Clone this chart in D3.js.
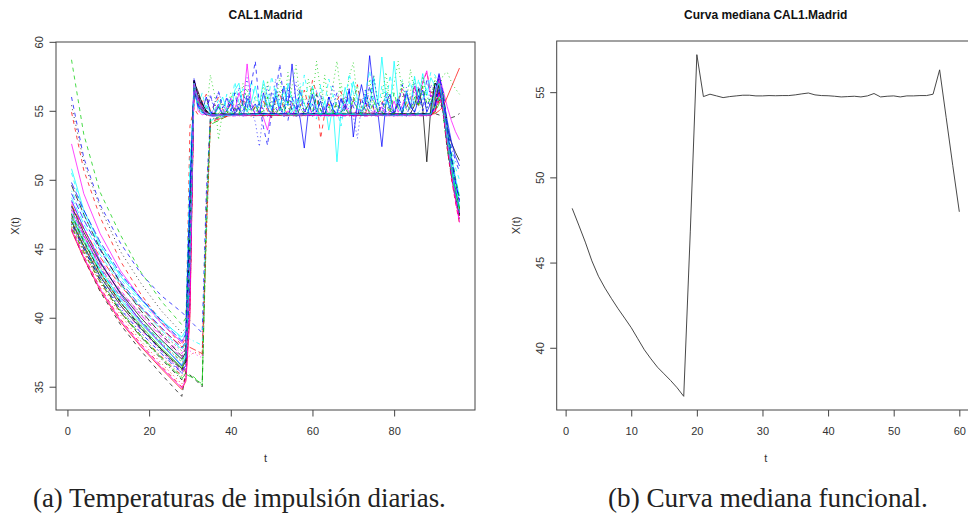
<!DOCTYPE html>
<html><head><meta charset="utf-8">
<script src="https://cdn.jsdelivr.net/npm/d3@7"></script>
<style>body{margin:0;background:#fff}svg{display:block}</style>
</head><body><svg id="c" width="968" height="516"></svg>
<script>
// ---------------- DATA ----------------
// Panel (a): daily supply temperatures, 42 curves over t = 1..96
const tDecay = [1, 4, 8, 13, 18, 23, 28];
const decayVals = [
 [47.0,45.2,43.0,40.9,39.2,37.7,36.3],
 [54.9,50.7,47.3,44.1,41.7,39.7,38.0],
 [47.5,45.8,43.8,41.9,40.3,38.9,37.6],
 [48.0,46.0,43.6,41.2,39.2,37.6,36.0],
 [47.2,45.5,43.4,41.4,39.8,38.3,37.0],
 [52.6,49.0,46.1,43.4,41.4,39.6,38.2],
 [46.4,44.3,41.9,39.5,37.6,35.9,34.3],
 [46.8,44.8,42.5,40.2,38.3,36.7,35.2],
 [47.8,45.9,43.7,41.5,39.8,38.2,36.8],
 [49.0,47.1,44.9,42.6,40.8,39.3,37.8],
 [50.8,47.8,45.3,43.0,41.3,39.8,38.6],
 [47.3,45.4,43.2,40.9,39.1,37.6,36.1],
 [55.4,51.3,48.0,44.8,42.5,40.5,38.9],
 [46.6,44.8,42.6,40.4,38.7,37.2,35.8],
 [47.0,45.1,42.8,40.5,38.7,37.1,35.6],
 [48.5,46.5,44.1,41.7,39.7,38.1,36.5],
 [50.5,47.5,45.1,42.8,41.1,39.6,38.4],
 [47.6,45.9,43.9,41.9,40.3,38.9,37.6],
 [46.9,45.0,42.7,40.4,38.6,37.0,35.5],
 [48.2,46.4,44.4,42.3,40.7,39.2,37.9],
 [47.4,45.5,43.3,41.1,39.4,37.8,36.4],
 [56.0,51.6,48.2,45.4,43.2,41.6,40.4],
 [46.7,45.0,43.1,41.1,39.5,38.2,36.9],
 [47.7,45.9,43.9,41.8,40.2,38.7,37.4],
 [49.6,47.5,45.0,42.5,40.5,38.8,37.2],
 [46.3,44.3,42.0,39.7,37.9,36.3,34.8],
 [58.7,53.3,49.1,46.0,43.3,41.2,39.5],
 [47.1,45.2,43.0,40.7,38.9,37.4,35.9],
 [49.2,47.4,45.2,43.1,41.4,39.9,38.5],
 [47.9,46.0,43.7,41.5,39.7,38.1,36.6],
 [48.1,46.2,44.0,41.8,40.0,38.4,37.0],
 [46.5,44.5,42.2,39.9,38.1,36.5,35.0],
 [47.2,45.3,43.1,40.9,39.2,37.6,36.2],
 [46.8,45.0,42.8,40.6,38.9,37.4,36.0],
 [48.7,46.8,44.6,42.4,40.7,39.1,37.7],
 [46.4,44.4,42.1,39.8,38.0,36.4,34.9],
 [47.5,45.6,43.3,41.1,39.3,37.7,36.2],
 [46.9,45.2,43.2,41.1,39.5,38.1,36.8],
 [46.6,44.7,42.6,40.4,38.6,37.1,35.7],
 [49.8,47.8,45.5,43.2,41.4,39.8,38.3],
 [47.6,45.7,43.5,41.3,39.6,38.0,36.6],
 [48.4,46.5,44.2,42.0,40.2,38.6,37.1]
];
// jump segment [t, value], t = 29..35
const riseVals = [
 [[29,36.9],[30,44.0],[31,57.2],[32,56.0],[33,55.3],[34,54.9],[35,54.75]],
 [[29,38.6],[30,53.9],[31,55.2],[32,54.7],[33,55.6],[34,56.2],[35,55.0]],
 [[29,38.2],[30,47.0],[31,56.8],[32,55.4],[33,55.0],[34,54.8],[35,57.6]],
 [[29,36.7],[30,45.5],[31,57.4],[32,55.9],[33,55.6],[34,54.9],[35,56.2]],
 [[29,37.5],[30,42.0],[31,56.9],[32,55.6],[33,55.1],[34,54.8],[35,54.7]],
 [[29,38.8],[30,49.0],[31,57.1],[32,55.0],[33,54.7],[34,54.8],[35,54.6]],
 [[29,36.1],[31,35.6],[33,35.0],[34,47.5],[35,54.3]],
 [[29,35.7],[30,40.5],[31,56.6],[32,55.7],[33,55.2],[34,54.8],[35,54.7]],
 [[29,37.4],[30,46.0],[31,57.0],[32,55.8],[33,55.0],[34,54.7],[35,54.7]],
 [[29,38.3],[30,43.5],[31,56.7],[32,55.5],[33,54.9],[34,54.8],[35,54.6]],
 [[29,39.1],[30,50.5],[31,56.5],[32,55.2],[33,54.8],[34,55.4],[35,54.9]],
 [[29,36.6],[30,41.5],[31,57.3],[32,56.1],[33,55.3],[34,54.9],[35,54.7]],
 [[29,39.3],[30,47.5],[31,56.9],[32,56.3],[33,55.6],[34,55.0],[35,54.8]],
 [[29,36.4],[30,43.0],[31,56.8],[32,55.6],[33,55.1],[34,54.8],[35,54.7]],
 [[29,35.9],[31,35.6],[33,35.2],[34,46.0],[35,54.0]],
 [[29,37.1],[30,48.5],[31,57.2],[32,55.4],[33,55.0],[34,56.0],[35,54.9]],
 [[29,38.9],[30,51.5],[31,56.4],[32,55.3],[33,56.3],[34,55.1],[35,54.8]],
 [[29,37.8],[31,37.4],[33,37.1],[34,48.5],[35,54.4]],
 [[29,36.0],[30,41.0],[31,57.0],[32,55.9],[33,55.2],[34,54.8],[35,54.7]],
 [[29,38.0],[31,37.7],[33,37.4],[34,46.5],[35,54.2]],
 [[29,37.0],[30,44.5],[31,57.1],[32,55.7],[33,55.0],[34,54.8],[35,54.7]],
 [[29,40.1],[31,39.5],[33,38.9],[34,49.0],[35,54.5]],
 [[29,37.4],[30,45.0],[31,56.6],[32,55.4],[33,54.9],[34,55.3],[35,54.8]],
 [[29,37.9],[30,42.5],[31,56.9],[32,55.6],[33,55.1],[34,54.8],[35,54.7]],
 [[29,37.8],[30,46.5],[31,57.2],[32,56.0],[33,55.2],[34,54.9],[35,54.7]],
 [[29,35.4],[30,40.0],[31,57.0],[32,55.8],[33,55.2],[34,54.8],[35,54.7]],
 [[29,40.0],[30,48.0],[31,56.7],[32,55.5],[33,55.0],[34,54.7],[35,54.8]],
 [[29,36.5],[30,47.5],[31,57.3],[32,56.0],[33,55.6],[34,55.0],[35,56.0]],
 [[29,38.6],[31,38.3],[33,38.0],[34,47.0],[35,54.3]],
 [[29,37.1],[30,43.5],[31,56.8],[32,55.6],[33,55.1],[34,54.8],[35,54.7]],
 [[29,37.5],[30,45.5],[31,57.1],[32,56.4],[33,55.5],[34,55.0],[35,54.7]],
 [[29,35.6],[30,41.0],[31,56.5],[32,55.5],[33,55.0],[34,54.7],[35,54.7]],
 [[29,36.8],[30,44.0],[31,57.0],[32,55.7],[33,55.2],[34,55.8],[35,55.0]],
 [[29,36.6],[30,42.5],[31,56.9],[32,55.8],[33,55.1],[34,54.8],[35,54.7]],
 [[29,38.2],[30,46.0],[31,56.6],[32,55.4],[33,54.9],[34,54.8],[35,54.7]],
 [[29,35.5],[30,40.5],[31,57.0],[32,55.9],[33,55.2],[34,54.8],[35,54.7]],
 [[29,36.8],[30,44.5],[31,56.8],[32,56.2],[33,55.5],[34,55.0],[35,54.8]],
 [[29,37.0],[31,37.5],[33,37.3],[34,45.5],[35,54.1]],
 [[29,36.0],[31,35.7],[33,35.1],[34,48.0],[35,54.4]],
 [[29,38.8],[30,49.5],[31,56.5],[32,55.3],[33,54.9],[34,54.7],[35,54.7]],
 [[29,37.2],[30,44.0],[31,57.0],[32,55.7],[33,55.1],[34,54.8],[35,54.7]],
 [[29,37.6],[30,45.0],[31,56.9],[32,55.6],[33,55.0],[34,54.8],[35,54.7]]
];
// plateau: quiet curves at tSparse, noisy curves at every t = 36..89
const tSparse = [40, 48, 56, 64, 72, 80, 89];
const tDense = d3.range(36, 90);
const flatVals = [
 [54.8,54.7,54.75,54.7,54.8,54.72,54.7,54.78,54.7,54.75, 54.7,54.8,54.72,54.7,54.76,54.7,54.8,54.74,54.7,54.72, 54.78,54.7,54.74,54.8,54.7,54.72,54.76,54.7,54.8,54.74, 54.7,54.76,54.72,54.8,54.7,54.74,54.7,54.78,54.72,54.7, 54.76,54.7,54.8,54.74,54.7,54.72,54.78,54.7,54.8,55.4, 56.6,55.2,51.3,55.3],
 [55.4,56.0,55.1,54.7,55.5,54.9,55.3,56.2,55.0,54.6, 55.3,54.8,55.7,55.0,54.5,55.8,56.3,55.1,54.8,55.6, 54.9,55.3,56.5,55.4,57.2,56.3,53.0,54.8,55.5,54.9, 55.7,56.4,55.2,54.7,55.6,56.9,55.3,54.8,55.9,55.1, 54.6,55.5,56.2,55.0,54.8,55.7,56.6,55.2,55.9,56.8, 55.4,57.0,57.8,56.3],
 [56.2,52.9,55.0,54.7,55.8,56.4,55.2,57.0,55.5,54.8, 56.1,55.3,54.7,57.2,55.6,54.9,56.5,55.2,57.8,55.9, 55.0,56.7,55.4,57.3,55.8,58.6,56.4,55.1,54.6,56.8, 58.6,56.0,55.2,57.5,58.5,55.8,54.9,56.3,55.2,57.6, 55.5,54.8,56.9,55.6,57.0,58.6,56.1,55.0,56.4,57.3, 55.4,56.8,55.1,56.2],
 [54.9,55.5,54.8,56.0,55.1,54.7,55.6,54.9,56.2,55.3, 54.8,55.7,55.0,54.6,56.4,55.2,54.7,55.3,56.7,55.0, 54.6,55.8,55.1,54.8,55.5,54.7,56.1,55.0,54.6,55.4, 56.3,54.9,55.2,54.7,55.8,55.0,54.6,56.0,55.2,54.8, 55.6,54.7,56.3,55.0,54.8,55.4,56.9,55.1,54.7,55.9, 56.8,55.2,57.3,56.0],
 [54.72,54.68,54.74,54.70,54.76,54.70,54.75],
 [54.9,55.4,54.8,55.2,55.9,55.0,56.3,55.4,58.4,55.6, 54.7,55.0,54.5,53.6,55.1,54.8,55.3,54.6,55.0,54.7, 55.2,54.6,54.9,55.4,54.7,55.0,54.6,55.3,54.8,55.1, 54.6,55.0,55.5,54.8,54.6,55.2,54.9,55.6,54.7,55.0, 54.8,55.3,54.6,55.0,55.7,54.9,55.4,56.2,55.3,56.8, 55.6,57.1,57.9,56.0],
 [54.75,54.70,54.80,54.72,54.70,54.78,54.70],
 [54.68,54.74,54.70,54.66,54.72,54.70,54.68],
 [54.76,54.72,54.78,54.74,54.80,54.72,54.80],
 [54.70,54.78,54.72,54.80,54.74,54.76,54.72],
 [54.7,55.2,56.0,55.1,54.8,56.5,57.0,55.3,54.9,55.6, 56.8,55.4,57.2,56.0,55.0,56.6,55.3,54.7,57.0,55.8, 54.8,56.3,55.5,54.9,56.8,55.2,54.6,55.7,53.6,55.4, 51.3,55.0,56.7,55.5,57.1,55.9,54.7,56.2,55.4,57.4, 55.6,58.9,55.9,55.1,58.6,55.7,54.8,56.2,55.3,57.5, 55.8,57.7,56.1,57.4],
 [54.66,54.70,54.64,54.70,54.66,54.72,54.68],
 [54.80,54.76,54.84,54.78,54.82,54.80,54.85],
 [54.72,54.66,54.70,54.74,54.68,54.72,54.70],
 [54.74,54.80,54.72,54.76,54.70,54.78,54.74],
 [54.8,55.3,54.7,55.0,55.6,54.8,55.2,54.6,55.9,55.1, 55.5,54.8,56.3,55.2,54.7,56.1,55.0,56.8,55.4,58.4, 55.6,54.4,52.3,55.0,56.2,54.9,55.7,54.6,56.0,55.1, 54.8,55.9,55.2,56.6,53.1,55.4,56.9,55.5,59.0,56.3, 54.9,52.4,55.6,56.2,54.8,55.7,54.7,56.4,55.3,54.9, 55.8,56.5,54.9,55.6],
 [55.0,55.8,54.6,56.2,55.4,57.1,55.6,56.6,55.0,57.2, 55.7,54.5,56.1,55.3,57.5,56.2,55.0,56.7,55.4,54.8, 56.0,55.2,57.6,56.1,55.0,54.4,56.9,55.5,57.3,56.2, 55.0,53.9,55.6,57.7,56.3,55.1,54.7,56.4,57.9,55.8, 54.9,56.8,55.4,57.6,56.0,55.2,54.6,56.3,57.1,55.5, 57.3,55.9,56.6,57.8],
 [54.64,54.68,54.62,54.66,54.70,54.64,54.66],
 [54.78,54.72,54.76,54.82,54.74,54.70,54.76],
 [54.70,54.74,54.80,54.72,54.78,54.74,54.70],
 [54.74,54.70,54.68,54.74,54.72,54.76,54.78],
 [55.6,56.4,55.2,55.9,55.0,56.3,54.9,55.8,55.1,56.9, 58.6,55.4,53.8,52.5,55.0,56.2,58.4,55.6,54.3,56.0, 55.0,56.6,54.8,55.7,54.6,56.2,55.1,54.7,56.0,55.2, 54.6,55.8,54.9,56.4,55.3,54.6,55.9,55.0,56.8,55.2, 54.7,55.6,54.9,55.4,54.8,56.0,55.2,54.6,55.5,54.9, 56.1,55.0,55.8,55.3],
 [54.8,55.4,54.7,55.0,56.0,54.9,55.3,54.7,55.8,55.1, 54.8,55.5,56.7,55.2,54.6,55.9,55.0,56.4,55.3,54.8, 55.6,57.0,55.4,54.9,55.7,54.6,55.8,55.1,54.7,56.2, 55.4,54.8,55.9,55.0,57.2,55.3,54.6,55.5,54.9,56.0, 55.2,54.7,56.5,55.3,54.8,55.6,57.3,55.4,56.0,55.2, 54.8,55.9,56.4,55.5],
 [54.62,54.66,54.70,54.64,54.60,54.66,54.62],
 [54.82,54.78,54.74,54.80,54.84,54.78,54.80],
 [54.70,54.66,54.74,54.70,54.72,54.68,54.74],
 [54.8,55.3,54.7,55.0,54.6,55.2,54.8,55.6,54.9,54.7, 55.4,54.8,55.0,56.0,55.1,54.7,55.3,54.9,55.7,55.0, 54.6,55.2,54.8,55.5,54.9,56.2,55.0,54.7,55.3,54.8, 55.6,54.9,55.2,54.7,56.0,55.1,54.8,55.4,54.9,55.7, 55.0,54.7,55.5,54.8,56.3,55.2,54.9,55.6,55.0,56.0, 55.3,56.8,55.5,55.9],
 [55.3,56.4,55.4,55.0,55.9,54.8,56.7,55.3,57.4,55.0, 54.2,52.4,55.1,56.8,55.2,57.3,55.6,54.5,56.3,55.0, 57.1,55.3,54.6,55.8,54.7,56.5,55.0,54.6,55.7,56.9, 55.2,54.5,56.1,55.0,54.6,53.0,55.4,56.6,55.1,57.5, 55.6,54.8,56.0,55.2,54.5,55.9,54.8,56.7,55.1,57.0, 55.5,56.3,55.0,56.9],
 [54.76,54.82,54.78,54.74,54.80,54.76,54.78],
 [54.68,54.72,54.66,54.70,54.74,54.70,54.66],
 [54.74,54.78,54.72,54.76,54.70,54.74,54.80],
 [54.70,54.64,54.68,54.72,54.66,54.70,54.72],
 [55.2,54.7,55.6,54.9,56.3,55.1,54.8,55.7,56.6,55.0, 54.6,55.4,56.9,55.3,54.8,55.6,57.4,55.2,54.7,56.8, 58.3,55.6,54.9,55.5,56.7,55.2,54.7,57.6,55.4,54.9, 55.8,57.0,55.3,54.6,55.9,56.8,55.1,54.8,57.3,55.5, 54.9,56.1,57.8,55.4,54.7,55.8,57.2,55.6,58.0,56.2, 55.3,57.5,56.0,55.4],
 [54.72,54.76,54.70,54.68,54.74,54.80,54.74],
 [54.80,54.74,54.78,54.82,54.76,54.74,54.78],
 [54.66,54.70,54.74,54.68,54.70,54.64,54.70],
 [54.74,54.70,54.76,54.72,54.78,54.70,54.72],
 [54.70,54.76,54.72,54.70,54.74,54.78,54.74],
 [54.76,54.70,54.74,54.78,54.72,54.76,54.70],
 [54.72,54.78,54.80,54.74,54.70,54.72,54.76],
 [54.68,54.74,54.70,54.76,54.72,54.68,54.72],
 [54.78,54.72,54.76,54.70,54.78,54.74,54.70]
];
// final drop, t = 90..96
const tEnd = [90, 91, 92, 93, 94, 95, 96];
const endVals = [
 [57.0,56.6,55.2,53.8,52.7,52.0,51.4],
 [56.4,57.3,55.1,52.4,50.5,48.9,47.6],
 [57.2,56.0,55.4,53.0,50.8,49.2,47.8],
 [56.9,56.2,55.6,54.0,52.4,51.4,50.6],
 [55.2,56.5,54.8,52.6,50.6,49.0,47.5],
 [56.4,57.6,56.5,55.3,54.3,53.5,52.9],
 [55.0,55.8,55.0,52.7,50.8,49.3,47.9],
 [54.9,56.0,55.3,52.8,50.4,48.7,47.2],
 [55.6,57.0,54.7,52.2,50.3,48.8,47.4],
 [55.3,56.3,55.6,53.6,51.6,49.9,48.5],
 [56.8,57.2,55.8,53.5,51.8,50.2,48.8],
 [54.8,55.9,56.2,53.4,51.0,49.1,47.7],
 [55.4,56.8,54.9,52.5,50.6,49.1,47.8],
 [55.0,56.1,55.2,52.9,50.6,48.8,47.3],
 [54.9,55.5,56.4,53.7,51.2,49.3,47.9],
 [56.3,57.7,56.0,54.3,52.8,51.7,51.0],
 [57.6,56.9,55.5,53.7,52.1,50.9,50.0],
 [55.1,56.7,54.9,52.7,50.9,49.6,48.4],
 [55.3,56.4,55.0,52.4,50.3,48.6,47.1],
 [55.0,55.7,55.9,53.1,50.8,49.0,47.6],
 [56.0,57.1,55.2,52.8,50.9,49.4,48.0],
 [55.6,57.4,56.3,54.0,51.9,50.0,48.6],
 [56.6,57.0,55.7,53.3,51.3,49.8,48.9],
 [55.2,56.2,55.4,52.9,50.7,49.0,47.6],
 [55.5,56.9,55.1,52.6,50.5,48.9,47.5],
 [54.8,55.0,55.3,56.0,56.7,57.4,58.1],
 [55.8,57.0,56.0,53.8,51.8,50.1,48.7],
 [56.2,57.5,56.4,54.0,51.7,49.9,48.5],
 [55.1,56.0,55.7,53.2,51.0,49.4,48.2],
 [55.4,56.6,55.0,52.5,50.4,48.6,46.9],
 [57.0,56.8,55.3,52.6,50.5,48.8,47.4],
 [55.0,56.3,54.9,52.3,50.1,48.4,46.8],
 [57.4,56.6,57.6,57.8,57.1,56.6,56.2],
 [55.3,56.5,55.1,52.8,50.7,49.1,47.7],
 [55.2,56.0,55.6,53.3,51.2,49.5,48.1],
 [56.1,57.2,55.6,53.0,50.6,48.6,47.0],
 [54.8,54.7,54.6,54.5,54.5,54.6,54.8],
 [55.0,56.4,55.2,52.7,50.5,48.8,47.3],
 [55.4,55.9,55.3,52.9,50.8,49.2,47.9],
 [55.3,56.7,55.8,53.6,51.5,49.8,48.4],
 [56.5,57.0,55.3,52.9,50.7,49.0,47.6],
 [55.1,56.2,55.0,52.6,50.4,48.7,47.2]
];
const xTicksA = [0, 20, 40, 60, 80];
const yTicksA = [35, 40, 45, 50, 55, 60];

// Panel (b): functional median curve, t = 1..60
const medianVals = [48.18,47.2,46.2,45.1,44.2,43.5,42.88,42.29,41.74,41.18,
 40.53,39.88,39.35,38.86,38.47,38.08,37.65,37.15,46.8,57.2,
 54.74,54.88,54.78,54.68,54.74,54.78,54.82,54.82,54.78,54.78,
 54.8,54.79,54.8,54.8,54.84,54.9,54.95,54.84,54.8,54.79,
 54.76,54.72,54.74,54.76,54.72,54.78,54.92,54.72,54.76,54.78,
 54.72,54.78,54.78,54.8,54.8,54.88,56.31,53.5,50.7,47.98];
const medianT = d3.range(1, medianVals.length + 1);
const xTicksB = [0, 10, 20, 30, 40, 50, 60];
const yTicksB = [40, 45, 50, 55];

const titles = ["CAL1.Madrid", "Curva mediana CAL1.Madrid"];
const captions = ["(a) Temperaturas de impulsión diarias.", "(b) Curva mediana funcional."];

// R default (pre-4.0) palette and matplot line types
const palette = ["#000000", "#FF0000", "#00CD00", "#0000FF", "#00FFFF", "#FF00FF"];
const ltys = [null, "4,4", "1,3", "1,3,4,3", "7,3"];

// ---------------- DRAW ----------------
const svg = d3.select("#c");
svg.append("rect").attr("width", 968).attr("height", 516).attr("fill", "#fff");
const FONT = "'Liberation Sans', Arial, sans-serif";

const curves = decayVals.map((dv, i) => {
  const pts = tDecay.map((t, k) => [t, dv[k]]);
  riseVals[i].forEach(p => pts.push(p));
  const fv = flatVals[i];
  const ft = fv.length === tSparse.length ? tSparse : tDense;
  fv.forEach((v, k) => pts.push([ft[k], v]));
  endVals[i].forEach((v, k) => pts.push([tEnd[k], v]));
  return pts;
});

function rDomain(ext) { const r = ext[1] - ext[0]; return [ext[0] - 0.04 * r, ext[1] + 0.04 * r]; }

function panel(box, xDom, yDom, xTicks, yTicks, title) {
  const x = d3.scaleLinear().domain(xDom).range([box.x0, box.x1]);
  const y = d3.scaleLinear().domain(yDom).range([box.y1, box.y0]);
  const g = svg.append("g");
  const xa = g.append("g").attr("transform", `translate(0,${box.y1})`)
    .call(d3.axisBottom(x).tickValues(xTicks).tickSize(6.5).tickSizeOuter(0).tickPadding(0));
  xa.select(".domain").remove();
  xa.selectAll("line").attr("stroke", "#444");
  xa.selectAll("text").attr("y", 25).attr("dy", 0).attr("fill", "#333")
    .style("font-family", FONT).style("font-size", "11px");
  const ya = g.append("g").attr("transform", `translate(${box.x0},0)`)
    .call(d3.axisLeft(y).tickValues(yTicks).tickSize(6.5).tickSizeOuter(0));
  ya.select(".domain").remove();
  ya.selectAll("line").attr("stroke", "#444");
  ya.selectAll("text").attr("transform", "rotate(-90)").attr("x", 0).attr("y", -13)
    .attr("dy", 0).attr("text-anchor", "middle").attr("fill", "#333")
    .style("font-family", FONT).style("font-size", "11px");
  g.append("rect").attr("x", box.x0).attr("y", box.y0)
    .attr("width", box.x1 - box.x0).attr("height", box.y1 - box.y0)
    .attr("fill", "none").attr("stroke", "#444").attr("stroke-width", 1);
  const cx = (box.x0 + box.x1) / 2;
  g.append("text").attr("x", cx).attr("y", 19).attr("text-anchor", "middle")
    .style("font-family", FONT).style("font-size", "12px").style("font-weight", "bold")
    .attr("fill", "#111").text(title);
  g.append("text").attr("x", cx).attr("y", 462).attr("text-anchor", "middle")
    .style("font-family", FONT).style("font-size", "11px").attr("fill", "#333").text("t");
  g.append("text").attr("transform", `translate(${box.x0 - 37},${(box.y0 + box.y1) / 2}) rotate(-90)`)
    .attr("text-anchor", "middle")
    .style("font-family", FONT).style("font-size", "11px").attr("fill", "#333").text("X(t)");
  return { x, y, g };
}

// Panel (a)
const allA = curves.flat();
const pA = panel({ x0: 56, x1: 475, y0: 42, y1: 410 },
  rDomain(d3.extent(allA, d => d[0])), rDomain(d3.extent(allA, d => d[1])),
  xTicksA, yTicksA, titles[0]);
const lineA = d3.line().x(d => pA.x(d[0])).y(d => pA.y(d[1]));
pA.g.append("g").selectAll("path").data(curves).join("path")
  .attr("d", lineA).attr("fill", "none")
  .attr("stroke", (d, i) => palette[i % 6])
  .attr("stroke-dasharray", (d, i) => ltys[i % 5])
  .attr("stroke-opacity", 0.8)
  .attr("stroke-width", 0.9);

// Panel (b)
const pB = panel({ x0: 556.7, x1: 974.8, y0: 41, y1: 410 },
  rDomain(d3.extent(medianT)), rDomain(d3.extent(medianVals)),
  xTicksB, yTicksB, titles[1]);
const lineB = d3.line().x((d, i) => pB.x(medianT[i])).y(d => pB.y(d));
pB.g.append("path").datum(medianVals).attr("d", lineB)
  .attr("fill", "none").attr("stroke", "#333").attr("stroke-width", 0.9);

// Captions (serif, fitted to reference width)
const capBoxes = [[33, 446], [608, 928]];
captions.forEach((c, i) => {
  const t = svg.append("text").attr("x", capBoxes[i][0]).attr("y", 507)
    .style("font-family", "'Liberation Serif', 'DejaVu Serif', serif")
    .style("font-size", "20px").attr("fill", "#222").text(c);
  const w = t.node().getComputedTextLength();
  t.style("font-size", (20 * (capBoxes[i][1] - capBoxes[i][0]) / w).toFixed(2) + "px");
});
</script></body></html>
